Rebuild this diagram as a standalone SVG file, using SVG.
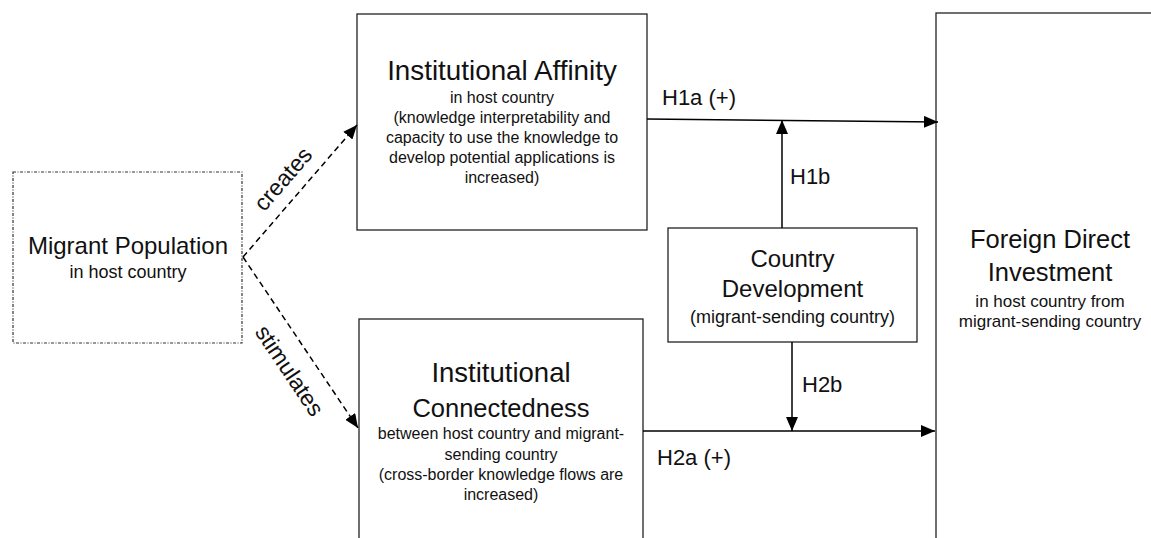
<svg xmlns="http://www.w3.org/2000/svg" width="1151" height="538" viewBox="0 0 1151 538">
<style>
text{font-family:"Liberation Sans",Arial,sans-serif;fill:#111;text-anchor:middle}
.box{fill:#fff;stroke:#222;stroke-width:1.3}
.dot{fill:#fff;stroke:#333;stroke-width:1.2;stroke-dasharray:3 1.5 1 1.5}
.t1{font-size:26.5px}
.s{font-size:16px}
.h{font-size:22px;text-anchor:start}
.c{stroke:#000;stroke-width:1.5;fill:none}
.d{stroke:#000;stroke-width:1.5;fill:none;stroke-dasharray:6 4}
</style>
<defs>
<marker id="ah" markerUnits="userSpaceOnUse" markerWidth="14" markerHeight="12" refX="14" refY="6" orient="auto">
<path d="M0,0 L14,6 L0,12 z" fill="#000"/>
</marker>
</defs>
<rect width="1151" height="538" fill="#fff"/>
<g id="migrant">
<rect class="dot" x="13" y="172" width="229" height="171"/>
<text x="128" y="254" style="font-size:24px">Migrant Population</text>
<text x="128" y="278" style="font-size:18px">in host country</text>
</g>
<g id="affinity">
<rect class="box" x="357" y="14" width="290" height="216"/>
<text x="502" y="80" style="font-size:27.8px">Institutional Affinity</text>
<text class="s" x="502" y="103">in host country</text>
<text class="s" x="502" y="123">(knowledge interpretability and</text>
<text class="s" x="502" y="143">capacity to use the knowledge to</text>
<text class="s" x="502" y="163">develop potential applications is</text>
<text class="s" x="502" y="183">increased)</text>
</g>
<g id="connectedness">
<rect class="box" x="359" y="319" width="284" height="240"/>
<text x="501" y="382" style="font-size:27.5px">Institutional</text>
<text x="501" y="417" style="font-size:25.5px">Connectedness</text>
<text class="s" x="501" y="439">between host country and migrant-</text>
<text class="s" x="501" y="460">sending country</text>
<text class="s" x="501" y="480">(cross-border knowledge flows are</text>
<text class="s" x="501" y="500">increased)</text>
</g>
<g id="development">
<rect class="box" x="668" y="228" width="249" height="114"/>
<text x="792.5" y="267" style="font-size:24px">Country</text>
<text x="792.5" y="297" style="font-size:24px">Development</text>
<text x="792.5" y="323" style="font-size:18px">(migrant-sending country)</text>
</g>
<g id="fdi">
<rect class="box" x="936" y="13" width="240" height="550"/>
<text x="1050" y="248" style="font-size:25.5px">Foreign Direct</text>
<text x="1050" y="281" style="font-size:25.5px">Investment</text>
<text x="1050" y="307" style="font-size:17px">in host country from</text>
<text x="1050" y="327" style="font-size:17px">migrant-sending country</text>
</g>
<g id="connectors">
<line class="d" x1="243" y1="257" x2="357" y2="125" marker-end="url(#ah)"/>
<line class="d" x1="243" y1="257" x2="358" y2="428" marker-end="url(#ah)"/>
<line class="c" x1="647" y1="119" x2="938" y2="122" marker-end="url(#ah)"/>
<line class="c" x1="782" y1="228" x2="782" y2="120" marker-end="url(#ah)"/>
<line class="c" x1="792" y1="342" x2="792" y2="431" marker-end="url(#ah)"/>
<line class="c" x1="643" y1="431" x2="935" y2="431" marker-end="url(#ah)"/>
<text transform="translate(289,184) rotate(-49.2)" style="font-size:23px">creates</text>
<text transform="translate(283,375) rotate(56.1)" style="font-size:23px">stimulates</text>
<text class="h" x="662" y="105">H1a (+)</text>
<text class="h" x="790" y="184">H1b</text>
<text class="h" x="802" y="392">H2b</text>
<text class="h" x="657" y="465">H2a (+)</text>
</g>
</svg>
